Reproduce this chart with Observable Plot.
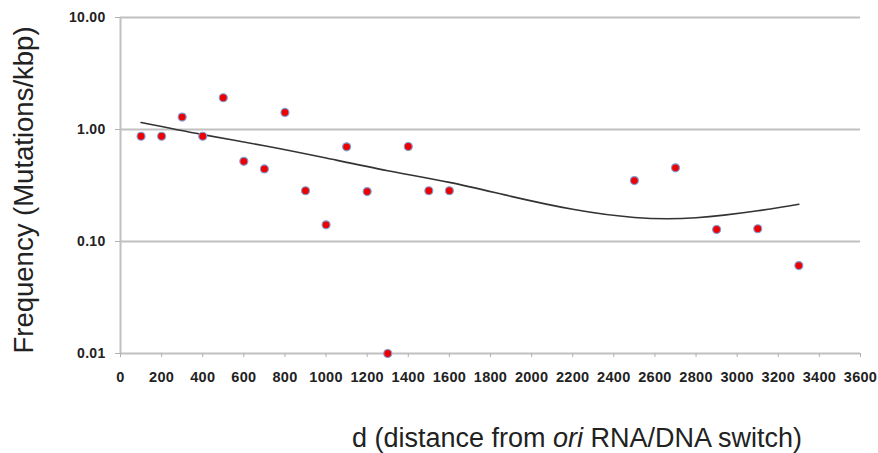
<!DOCTYPE html>
<html>
<head>
<meta charset="utf-8">
<script src="https://cdn.jsdelivr.net/npm/d3@7"></script>
<script src="https://cdn.jsdelivr.net/npm/@observablehq/plot@0.6"></script>
<style>
  html, body { margin: 0; padding: 0; background: #fff; }
  #chart svg { display: block; }
</style>
</head>
<body>
<div id="chart"></div>
<script>
// Observed mutation frequencies
const distances = [100, 200, 300, 400, 500, 600, 700, 800, 900, 1000, 1100, 1200, 1300, 1400, 1500, 1600, 2500, 2700, 2900, 3100, 3300];
const frequencies = [0.87, 0.87, 1.29, 0.87, 1.92, 0.52, 0.445, 1.42, 0.284, 0.141, 0.70, 0.279, 0.01, 0.705, 0.284, 0.284, 0.35, 0.455, 0.128, 0.130, 0.061];

// Trend line
const trendX = [100, 400, 700, 1000, 1300, 1600, 1900, 2200, 2500, 2800, 3100, 3300];
const trendY = [1.155, 0.90, 0.716, 0.556, 0.429, 0.337, 0.253, 0.194, 0.164, 0.163, 0.188, 0.215];

// Tick labels
const xTicks = [0, 200, 400, 600, 800, 1000, 1200, 1400, 1600, 1800, 2000, 2200, 2400, 2600, 2800, 3000, 3200, 3400, 3600];
const yTicks = [0.01, 0.1, 1, 10];

const points = distances.map((d, i) => ({d, f: frequencies[i]}));
const trend = trendX.map((d, i) => ({d, f: trendY[i]}));

const chart = Plot.plot({
  width: 878,
  height: 453,
  marginLeft: 120,
  marginRight: 18,
  marginTop: 17,
  marginBottom: 100,
  style: {fontFamily: "'Liberation Sans', Arial, sans-serif", background: "#fff"},
  x: {domain: [0, 3600]},
  y: {type: "log", domain: [0.01, 10]},
  marks: [
    Plot.ruleY(yTicks, {y: d => d, stroke: "#c0c0c0", strokeWidth: 2}),
    Plot.ruleX([0], {x: d => d, stroke: "#c0c0c0", strokeWidth: 2}),
    Plot.axisY({
      ticks: yTicks, tickFormat: d3.format(".2f"), tickSize: 5, tickPadding: 10,
      stroke: "#b0b0b0", fill: "#222", fontSize: 14, fontWeight: "bold", label: null
    }),
    Plot.axisX({
      ticks: xTicks, tickFormat: d => String(d), tickSize: 4, tickPadding: 14,
      stroke: "#b0b0b0", fill: "#222", fontSize: 14.5, fontWeight: "bold", label: null
    }),
    Plot.line(trend, {x: "d", y: "f", curve: "natural", stroke: "#333", strokeWidth: 1.6}),
    Plot.dot(points, {x: "d", y: "f", r: 4, fill: "#ee0000", stroke: "#7f9fd8", strokeWidth: 1.2})
  ]
});

// Axis titles
const svg = d3.select(chart);
svg.selectAll("g[aria-label='x-axis tick label'] text, g[aria-label='y-axis tick label'] text")
  .style("letter-spacing", "0.3px");

svg.append("text")
  .attr("transform", "translate(33,190) rotate(-90)")
  .attr("text-anchor", "middle")
  .style("font-family", "'Liberation Sans', Arial, sans-serif")
  .style("font-size", "27.5px")
  .attr("fill", "#222")
  .text("Frequency (Mutations/kbp)");

const xt = svg.append("text")
  .attr("x", 577)
  .attr("y", 447)
  .attr("text-anchor", "middle")
  .style("font-family", "'Liberation Sans', Arial, sans-serif")
  .style("font-size", "27px")
  .attr("fill", "#222");
xt.append("tspan").text("d (distance from ");
xt.append("tspan").style("font-style", "italic").text("ori");
xt.append("tspan").text(" RNA/DNA switch)");

document.getElementById("chart").appendChild(chart);
</script>
</body>
</html>
